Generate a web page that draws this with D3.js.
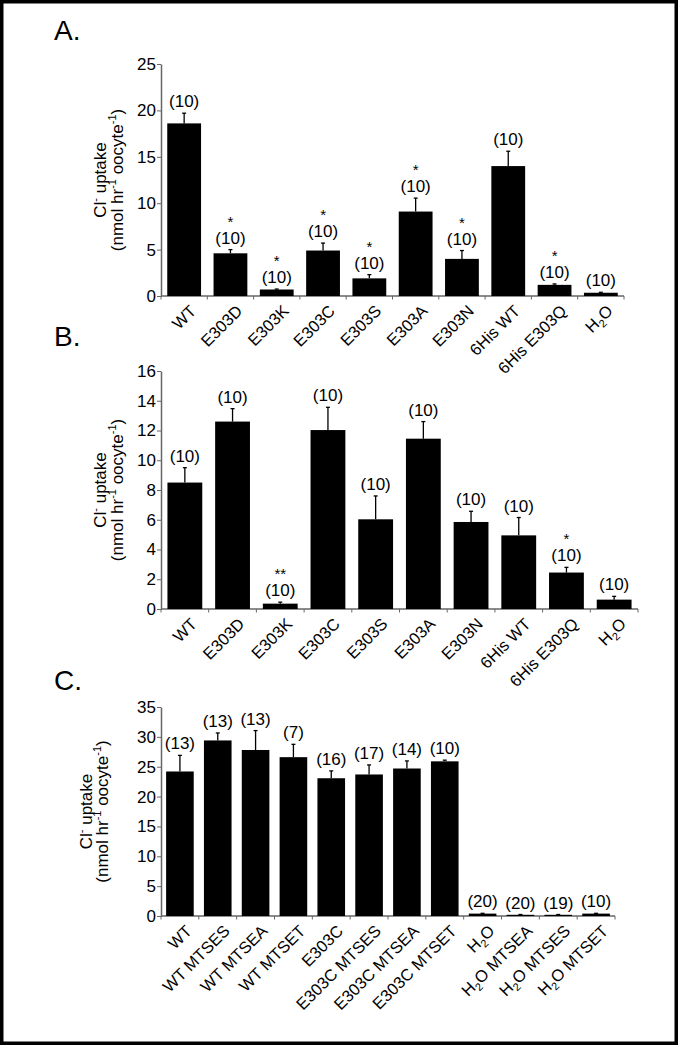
<!DOCTYPE html>
<html>
<head>
<meta charset="utf-8">
<title>Cl- uptake</title>
<script src="https://d3js.org/d3.v7.min.js"></script>
<style>
  html, body { margin: 0; padding: 0; background: #fff; }
  svg { display: block; font-family: "Liberation Sans", Arial, sans-serif; }
  .tick text { font-size: 17px; fill: #000; }
  .cat { font-size: 16.5px; }
  .nlab { font-size: 17px; text-anchor: middle; }
  .star { font-size: 15px; text-anchor: middle; }
  .ylab { font-size: 17px; text-anchor: middle; }
  .letter { font-size: 28px; }
</style>
</head>
<body>
<svg width="678" height="1045"></svg>
<script>
// panel A
const catsA = ["WT", "E303D", "E303K", "E303C", "E303S", "E303A", "E303N", "6His WT", "6His E303Q", "H2O"];
const meanA = [18.6, 4.6, 0.7, 4.9, 1.9, 9.1, 4.0, 14.0, 1.2, 0.35];
const semA  = [1.1, 0.4, 0.05, 0.8, 0.4, 1.45, 0.9, 1.6, 0.1, 0.05];
const nA    = [10, 10, 10, 10, 10, 10, 10, 10, 10, 10];
const starsA = ["", "*", "*", "*", "*", "*", "*", "", "*", ""];

// panel B
const catsB = ["WT", "E303D", "E303K", "E303C", "E303S", "E303A", "E303N", "6His WT", "6His E303Q", "H2O"];
const meanB = [8.5, 12.6, 0.36, 12.03, 6.03, 11.45, 5.85, 4.95, 2.45, 0.63];
const semB  = [1.0, 0.87, 0.1, 1.53, 1.57, 1.15, 0.72, 1.2, 0.35, 0.22];
const nB    = [10, 10, 10, 10, 10, 10, 10, 10, 10, 10];
const starsB = ["", "", "**", "", "", "", "", "", "*", ""];

// panel C
const catsC = ["WT", "WT MTSES", "WT MTSEA", "WT MTSET", "E303C", "E303C MTSES", "E303C MTSEA", "E303C MTSET",
               "H2O", "H2O MTSEA", "H2O MTSES", "H2O MTSET"];
const meanC = [24.2, 29.4, 27.8, 26.6, 23.07, 23.7, 24.7, 25.9, 0.4, 0.2, 0.2, 0.4];
const semC  = [2.7, 1.25, 3.25, 2.15, 1.23, 1.6, 1.27, 0.2, 0.05, 0.05, 0.05, 0.05];
const nC    = [13, 13, 13, 7, 16, 17, 14, 10, 20, 20, 19, 10];
const starsC = ["", "", "", "", "", "", "", "", "", "", "", ""];

const ticksA = [0, 5, 10, 15, 20, 25];
const ticksB = [0, 2, 4, 6, 8, 10, 12, 14, 16];
const ticksC = [0, 5, 10, 15, 20, 25, 30, 35];

const svg = d3.select("svg");
const left = 161;

const panels = [
  { letter: "A.", letterY: 40, cats: catsA, mean: meanA, sem: semA, n: nA, stars: starsA, ticks: ticksA,
    top: 64, bottom: 296, right: 624, labX: [106, 123] },
  { letter: "B.", letterY: 346, cats: catsB, mean: meanB, sem: semB, n: nB, stars: starsB, ticks: ticksB,
    top: 371, bottom: 609, right: 638, labX: [106, 123] },
  { letter: "C.", letterY: 690, cats: catsC, mean: meanC, sem: semC, n: nC, stars: starsC, ticks: ticksC,
    top: 707, bottom: 916, right: 615, labX: [92, 108] }
];

// write a label, turning "H2O" into H<sub>2</sub>O
function writeLabel(sel, str) {
  const parts = str.split("H2O");
  parts.forEach((p, i) => {
    if (i > 0) {
      sel.append("tspan").text("H");
      sel.append("tspan").attr("dy", 4).attr("font-size", "11px").text("2");
      sel.append("tspan").attr("dy", -4).text("O");
    }
    if (p) sel.append("tspan").text(p);
  });
}

panels.forEach(p => {
  const g = svg.append("g");
  const x = d3.scaleBand().domain(p.cats).range([left, p.right]).paddingInner(0.27).paddingOuter(0.135);
  const y = d3.scaleLinear().domain([0, d3.max(p.ticks)]).range([p.bottom, p.top]);
  const data = p.cats.map((c, i) => ({ cat: c, mean: p.mean[i], sem: p.sem[i], n: p.n[i], star: p.stars[i] }));

  g.append("text").attr("class", "letter").attr("x", 54).attr("y", p.letterY).text(p.letter);

  // y axis
  const ya = g.append("g").attr("transform", `translate(${left},0)`)
    .call(d3.axisLeft(y).tickValues(p.ticks).tickSize(4).tickSizeOuter(0).tickPadding(1));
  ya.select(".domain").attr("stroke", "#666").attr("stroke-width", 1.5);
  ya.selectAll(".tick line").attr("stroke", "#666");

  // x axis line with ticks at category boundaries
  g.append("line").attr("x1", left).attr("x2", p.right).attr("y1", y(0)).attr("y2", y(0))
    .attr("stroke", "#666").attr("stroke-width", 1.5);
  g.selectAll("line.xt").data(d3.range(p.cats.length + 1)).enter().append("line")
    .attr("x1", i => left + i * x.step()).attr("x2", i => left + i * x.step())
    .attr("y1", y(0)).attr("y2", y(0) + 3.5).attr("stroke", "#666");

  // bars
  g.selectAll("rect.bar").data(data).enter().append("rect")
    .attr("x", d => x(d.cat)).attr("width", x.bandwidth())
    .attr("y", d => y(d.mean)).attr("height", d => y(0) - y(d.mean))
    .attr("fill", "#000");

  // error bars (upper only)
  const cx = d => x(d.cat) + x.bandwidth() / 2;
  g.selectAll("line.err").data(data).enter().append("line")
    .attr("x1", cx).attr("x2", cx)
    .attr("y1", d => y(d.mean)).attr("y2", d => y(d.mean + d.sem))
    .attr("stroke", "#000").attr("stroke-width", 1.3);
  g.selectAll("line.cap").data(data).enter().append("line")
    .attr("x1", d => cx(d) - 2).attr("x2", d => cx(d) + 2)
    .attr("y1", d => y(d.mean + d.sem)).attr("y2", d => y(d.mean + d.sem))
    .attr("stroke", "#000").attr("stroke-width", 1.3);

  // n labels and stars
  g.selectAll("text.nlab").data(data).enter().append("text").attr("class", "nlab")
    .attr("x", cx).attr("y", d => y(d.mean + d.sem) - 6).text(d => `(${d.n})`);
  g.selectAll("text.star").data(data.filter(d => d.star)).enter().append("text").attr("class", "star")
    .attr("x", cx).attr("y", d => y(d.mean + d.sem) - 23).text(d => d.star);

  // category labels
  g.selectAll("text.cat").data(data).enter().append("text").attr("class", "cat")
    .attr("text-anchor", "end")
    .attr("transform", d => `translate(${cx(d) + 13},${y(0) + 16}) rotate(-45)`)
    .each(function (d) { writeLabel(d3.select(this), d.cat); });

  // y axis title
  const mid = (p.top + p.bottom) / 2;
  const t1 = g.append("text").attr("class", "ylab")
    .attr("transform", `translate(${p.labX[0]},${mid}) rotate(-90)`);
  t1.append("tspan").text("Cl");
  t1.append("tspan").attr("dy", -7).attr("font-size", "11px").text("-");
  t1.append("tspan").attr("dy", 7).text(" uptake");
  const t2 = g.append("text").attr("class", "ylab")
    .attr("transform", `translate(${p.labX[1]},${mid}) rotate(-90)`);
  t2.append("tspan").text("(nmol hr");
  t2.append("tspan").attr("dy", -7).attr("font-size", "11px").text("-1");
  t2.append("tspan").attr("dy", 7).text(" oocyte");
  t2.append("tspan").attr("dy", -7).attr("font-size", "11px").text("-1");
  t2.append("tspan").attr("dy", 7).text(")");
});

// frame
svg.append("rect").attr("x", 1.5).attr("y", 1.5).attr("width", 675).attr("height", 1042)
  .attr("fill", "none").attr("stroke", "#000").attr("stroke-width", 4);
</script>
</body>
</html>
